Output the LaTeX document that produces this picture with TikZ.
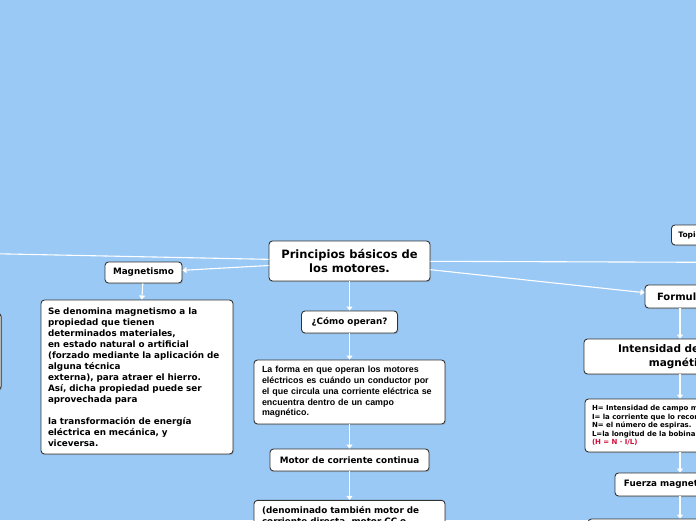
\documentclass[tikz,border=0pt]{standalone}
\usepackage{fontspec}
\setmainfont{DejaVu Sans}
\newfontfamily\arialfont{Liberation Sans}
\usetikzlibrary{arrows.meta,positioning,shadows}
\definecolor{mapblue}{HTML}{9BC9F5}
\definecolor{boxline}{HTML}{333333}
\definecolor{formred}{HTML}{D0103A}

\begin{document}
\begin{tikzpicture}[
x=1pt, y=-1pt,
box/.style={rectangle, draw=boxline, line width=0.9pt, rounded corners=3.5pt, fill=white, drop shadow={shadow xshift=1pt, shadow yshift=-1.2pt, opacity=.3}, inner xsep=7pt, inner ysep=3pt, align=center, font=\bfseries\fontsize{8.8}{10.5}\selectfont},
main/.style={box, font=\bfseries\fontsize{11.5}{14.5}\selectfont},
note/.style={box, align=left, inner ysep=5pt, font=\bfseries\fontsize{8.8}{11}\selectfont},
link/.style={draw=white, line width=1.1pt, -{Triangle[length=4pt, width=6pt]}}
]
\useasboundingbox (0,0) rectangle (696,520);
\fill [mapblue] (0,0) rectangle (696,520);
\clip (0,0) rectangle (696,520);

% centre column
\node (root) [main, minimum width=161pt, minimum height=40pt] at (349.5,261) {Principios básicos de\\los motores.};
\node (como) [box, below of=root, node distance=61pt, minimum width=96pt, minimum height=22pt] {¿Cómo operan?};
\node (forma) [note, below of=como, node distance=70pt, text width=175pt, inner xsep=8pt, minimum height=64pt, font=\arialfont\bfseries\fontsize{8.9}{10.8}\selectfont] {La forma en que operan los motores\\eléctricos es cuándo un conductor por\\el que circula una corriente eléctrica se\\encuentra dentro de un campo\\magnético.};
\node (motor) [box, below of=forma, node distance=68pt, minimum width=159pt, minimum height=22pt] {Motor de corriente continua};
\node (denom) [note, below of=motor, node distance=56pt, text width=175pt, inner xsep=8pt, inner ysep=6pt] {(denominado también motor de\\corriente directa, motor CC o};

% left side
\node (magnet) [box, minimum width=77pt, minimum height=21pt] at (143.5,272.5) {Magnetismo};
\node (magtext) [note, below of=magnet, node distance=104.5pt, xshift=-6.5pt, text width=178pt, minimum height=154pt] {Se denomina magnetismo a la\\propiedad que tienen\\determinados materiales,\\en estado natural o artificial\\(forzado mediante la aplicación de\\alguna técnica\\externa), para atraer el hierro.\\Así, dicha propiedad puede ser\\aprovechada para\\\mbox{}\\la transformación de energía\\eléctrica en mecánica, y\\viceversa.};
\node (leftnote) [box, anchor=east, minimum width=120pt, minimum height=77pt] at (1.5,351.5) {};
\coordinate (leftout) at (-40,253);

% right side
\node (topic) [box, anchor=west, minimum height=20pt, font=\bfseries\fontsize{7.5}{9}\selectfont] at (671,235) {Topic};
\node (formula) [box, minimum width=70pt, minimum height=23pt, font=\bfseries\fontsize{10}{12}\selectfont] at (680,296.5) {Formula};
\node (intens) [main, below of=formula, node distance=60pt, minimum width=192pt, minimum height=35pt, font=\bfseries\fontsize{10.5}{13.5}\selectfont] {Intensidad de campo\\magnético};
\node (hnote) [note, below of=intens, node distance=69pt, text width=176pt, minimum height=53pt, font=\bfseries\fontsize{7}{8.5}\selectfont] {H= Intensidad de campo magnético\\I= la corriente que lo recorre\\N= el número de espiras.\\L=la longitud de la bobina\\{\color{formred}(H = N · I/L)}};
\node (fuerza) [box, below of=hnote, node distance=59pt, minimum width=130pt, minimum height=23pt] {Fuerza magnetomotriz};
\node (nextbox) [box, below of=fuerza, node distance=54.5pt, minimum width=184pt, minimum height=40pt] {};
\coordinate (rightout) at (760,262.5);

\draw [link] (root) -- (leftout);
\draw [link] (root) -- (magnet);
\draw [link] (root) -- (rightout);
\draw [link] (root) -- (formula);
\draw [link] (root) -- (como);
\draw [link] (como) -- (forma);
\draw [link] (forma) -- (motor);
\draw [link] (motor) -- (denom);
\draw [link] (magnet) -- (magtext);
\draw [link] (formula) -- (intens);
\draw [link] (intens) -- (hnote);
\draw [link] (hnote) -- (fuerza);
\draw [link] (fuerza) -- (nextbox);
\end{tikzpicture}
\end{document}
